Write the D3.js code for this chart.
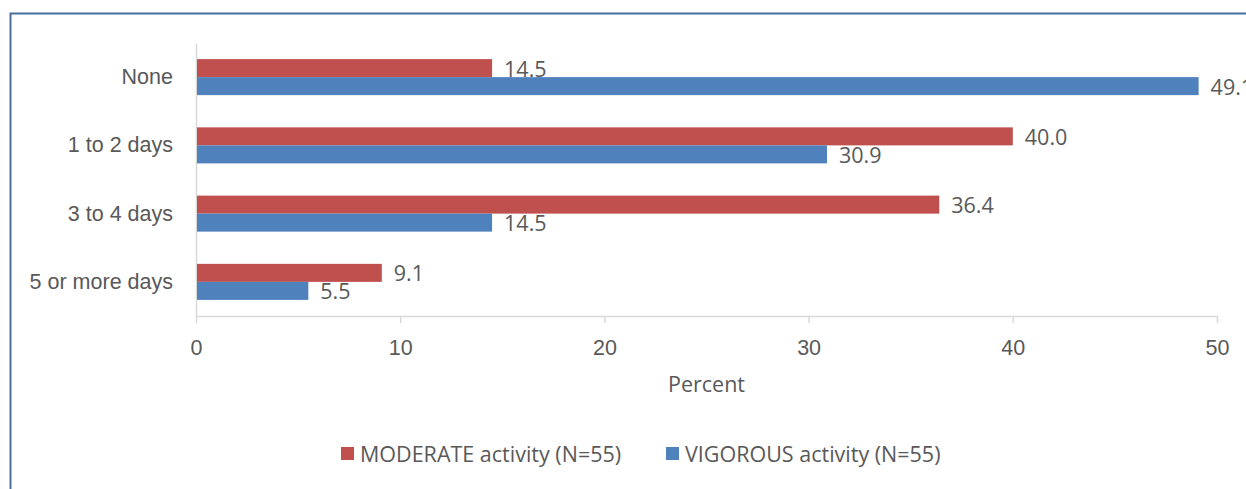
<!DOCTYPE html>
<html>
<head>
<style>
  body { margin: 0; overflow: hidden; background: #fff; }
  svg { display: block; font-family: "Open Sans", sans-serif; }
</style>
</head>
<body>
<svg id="chart" width="1246" height="489"></svg>
<script src="https://cdnjs.cloudflare.com/ajax/libs/d3/7.8.5/d3.min.js"></script>
<script>
  // data
  const categories = ["None", "1 to 2 days", "3 to 4 days", "5 or more days"];
  const moderate = [14.5, 40.0, 36.4, 9.1];
  const vigorous = [49.1, 30.9, 14.5, 5.5];
  const seriesNames = ["MODERATE activity (N=55)", "VIGOROUS activity (N=55)"];
  const xTicks = [0, 10, 20, 30, 40, 50];

  const colors = ["#C0504D", "#4F81BD"];
  const textColor = "#595959";
  const gridColor = "#D9D9D9";
  const fontSize = "21.5px";

  const svg = d3.select("#chart");
  const margin = { left: 196, right: 29, top: 43, bottom: 173 };
  const width = 1246, height = 489;

  // outer frame (only top and left edges visible in the crop)
  svg.append("path")
    .attr("d", "M10.5,489 L10.5,13.5 L1246,13.5")
    .attr("fill", "none")
    .attr("stroke", "#4A6FA0")
    .attr("stroke-width", 2);

  const x = d3.scaleLinear().domain([0, 50]).range([margin.left, width - margin.right]);
  const y = d3.scaleBand().domain(categories).range([margin.top, height - margin.bottom]);
  const inner = d3.scaleBand().domain([0, 1]).range([0, y.bandwidth()]).paddingInner(0).paddingOuter(0.895);

  // x axis
  const axisY = height - margin.bottom;
  const xAxis = svg.append("g")
    .attr("transform", `translate(0,${axisY})`)
    .call(d3.axisBottom(x).tickValues(xTicks).tickSize(7).tickSizeOuter(0).tickPadding(17));
  xAxis.select(".domain").attr("stroke", gridColor).attr("stroke-width", 1.5);
  xAxis.selectAll(".tick line").attr("stroke", gridColor).attr("stroke-width", 1.5);
  xAxis.selectAll(".tick text").attr("fill", textColor).style("font-size", fontSize);

  // y axis
  const yAxis = svg.append("g")
    .attr("transform", `translate(${margin.left},0)`)
    .call(d3.axisLeft(y).tickSize(0).tickPadding(23));
  yAxis.select(".domain").attr("stroke", gridColor).attr("stroke-width", 1.5);
  yAxis.selectAll(".tick text").attr("fill", textColor).style("font-size", fontSize);

  // bars
  const series = [moderate, vigorous];
  series.forEach((vals, si) => {
    const g = svg.append("g");
    g.selectAll("rect").data(vals).join("rect")
      .attr("x", x(0) + 1)
      .attr("y", (d, i) => y(categories[i]) + inner(si))
      .attr("width", d => x(d) - x(0) - 1)
      .attr("height", inner.bandwidth())
      .attr("fill", colors[si]);
    g.selectAll("text").data(vals).join("text")
      .attr("x", d => x(d) + 12)
      .attr("y", (d, i) => y(categories[i]) + inner(si) + inner.bandwidth() / 2 + 1)
      .attr("dy", "0.35em")
      .attr("fill", textColor)
      .style("font-size", fontSize)
      .text(d => d.toFixed(1));
  });

  // axis title
  svg.append("text")
    .attr("x", x(25))
    .attr("y", 384)
    .attr("dy", "0.35em")
    .attr("text-anchor", "middle")
    .attr("fill", textColor)
    .style("font-size", fontSize)
    .text("Percent");

  // legend
  const legendX = [341, 666];
  const legend = svg.append("g");
  seriesNames.forEach((name, i) => {
    legend.append("rect")
      .attr("x", legendX[i]).attr("y", 447)
      .attr("width", 13).attr("height", 13)
      .attr("fill", colors[i]);
    legend.append("text")
      .attr("x", legendX[i] + 19).attr("y", 454)
      .attr("dy", "0.35em")
      .attr("fill", textColor)
      .style("font-size", fontSize)
      .text(name);
  });
</script>
</body>
</html>
